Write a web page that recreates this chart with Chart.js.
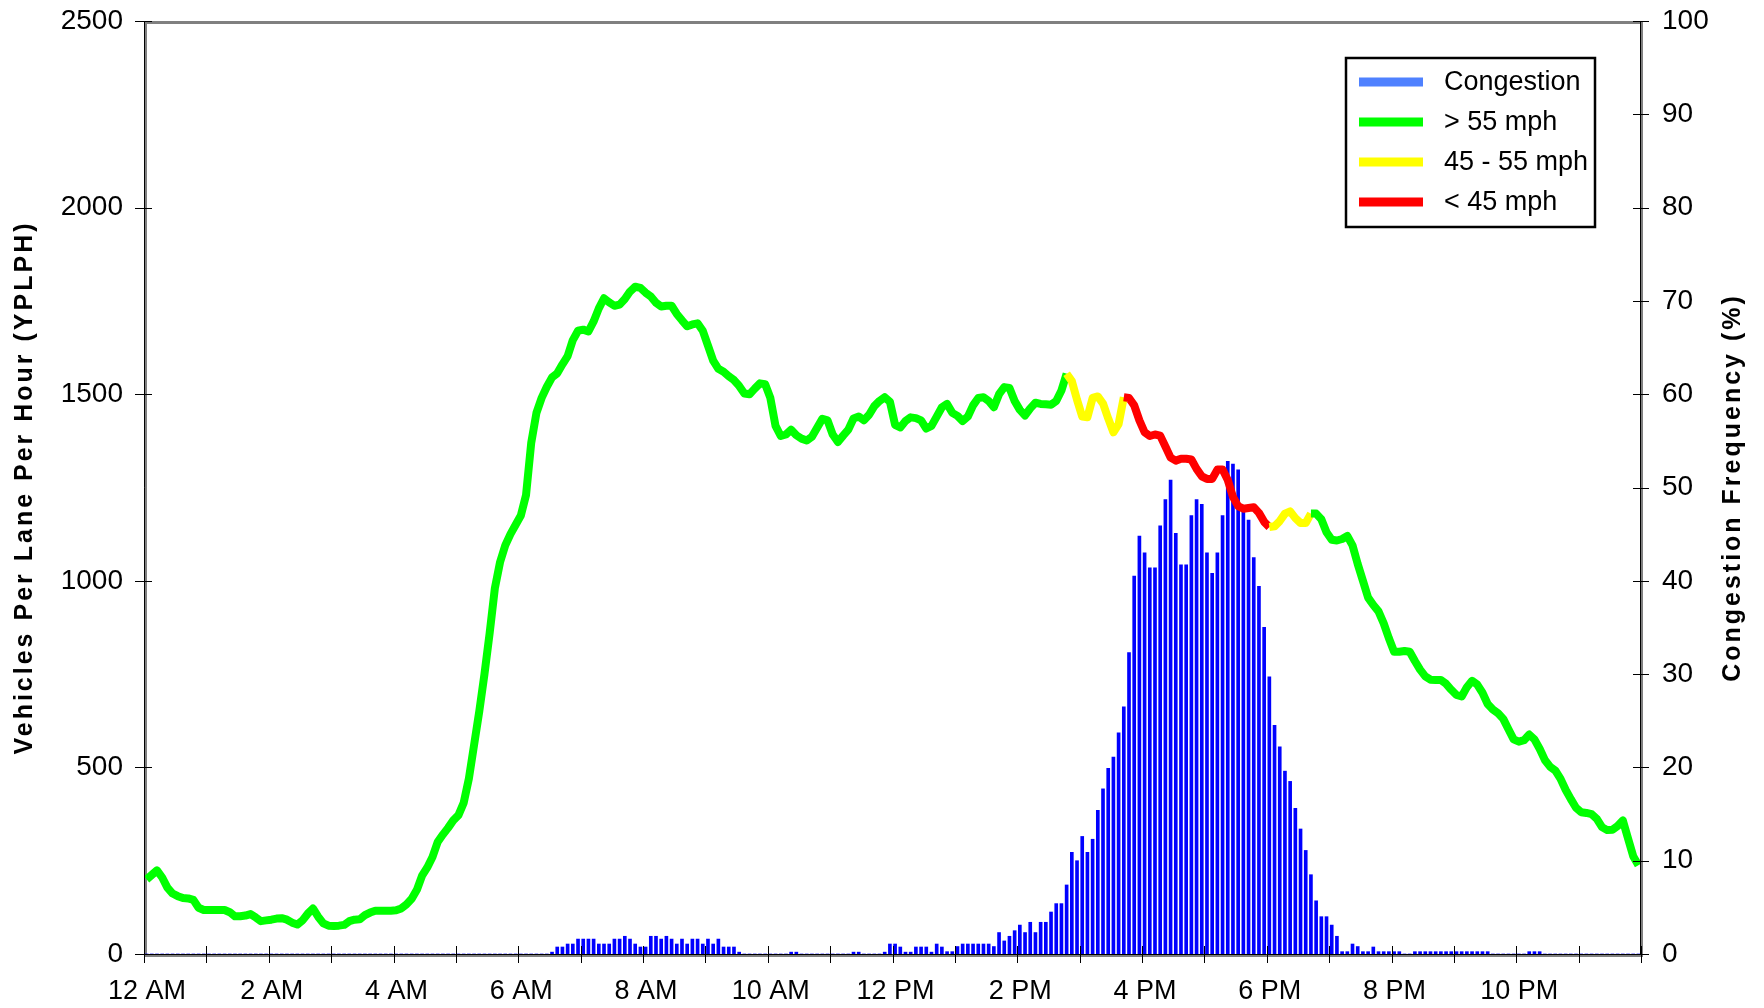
<!DOCTYPE html>
<html>
<head>
<meta charset="utf-8">
<script src="https://cdn.jsdelivr.net/npm/chart.js@4.4.0/dist/chart.umd.min.js"></script>
<style>
  html, body { margin: 0; padding: 0; background: #fff; }
  #wrap { width: 1764px; height: 1008px; }
</style>
</head>
<body>
<div id="wrap"><canvas id="graficoVolume"></canvas></div>
<script>
// volume in vehicles per lane per hour, one value per 5 min (12 per row = 1 hour)
const volume = [
  200, 212, 224, 205, 178, 162, 155, 150, 149, 145, 124, 118,
  118, 118, 118, 118, 112, 101, 101, 103, 107, 98, 88, 90,
  92, 95, 96, 92, 84, 79, 90, 108, 122, 100, 82, 76,
  75, 76, 78, 88, 92, 93, 104, 111, 116, 116, 116, 116,
  117, 122, 133, 148, 172, 210, 232, 260, 300, 320, 338, 358,
  372, 405, 470, 560, 650, 750, 860, 980, 1050, 1095, 1125, 1150,
  1175, 1230, 1370, 1450, 1490, 1520, 1545, 1556, 1580, 1602, 1645, 1670,
  1673, 1668, 1695, 1730, 1757, 1746, 1737, 1740, 1755, 1775, 1788, 1785,
  1772, 1762, 1745, 1735, 1737, 1737, 1715, 1698, 1682, 1687, 1690, 1670,
  1630, 1590, 1568, 1560, 1548, 1538, 1522, 1502, 1500, 1515, 1529, 1527,
  1490, 1415, 1388, 1392, 1405, 1390, 1381, 1376, 1386, 1410, 1434, 1430,
  1392, 1372, 1389, 1405, 1435, 1440, 1430, 1445, 1468, 1482, 1492, 1480,
  1418, 1411, 1428, 1438, 1436, 1430, 1408, 1415, 1440, 1465, 1474, 1450,
  1442, 1428, 1440, 1470, 1490, 1492, 1482, 1465, 1500, 1519, 1517, 1482,
  1458, 1443, 1462, 1477, 1474, 1473, 1472, 1482, 1510, 1555, 1535, 1485,
  1440, 1438, 1490, 1494, 1475, 1435, 1398, 1420, 1492, 1490, 1470, 1430,
  1398, 1388, 1392, 1389, 1360, 1330, 1322, 1327, 1327, 1325, 1300, 1280,
  1273, 1273, 1298, 1298, 1270, 1225, 1200, 1193, 1195, 1197, 1182, 1158,
  1144, 1146, 1160, 1180, 1186, 1168, 1155, 1155, 1180, 1180, 1165, 1130,
  1110, 1108, 1112, 1120, 1095, 1045, 1000, 955, 935, 918, 886, 846,
  810, 810, 812, 810, 785, 762, 744, 735, 734, 734, 724, 708,
  694, 690, 715, 732, 722, 700, 670, 655, 645, 630, 602, 575,
  569, 573, 588, 575, 550, 520, 502, 492, 470, 440, 415, 392,
  380, 378, 375, 362, 340, 332, 333, 343, 358, 310, 262, 238
];

// congestion frequency (%) per 5 min
const congestion = [
  0, 0, 0, 0, 0, 0, 0, 0, 0, 0, 0, 0,
  0, 0, 0, 0, 0, 0, 0, 0, 0, 0, 0, 0,
  0, 0, 0, 0, 0, 0, 0, 0, 0, 0, 0, 0,
  0, 0, 0, 0, 0, 0, 0, 0, 0, 0, 0, 0,
  0, 0, 0, 0, 0, 0, 0, 0, 0, 0, 0, 0,
  0, 0, 0, 0, 0, 0, 0, 0, 0, 0, 0, 0,
  0, 0, 0, 0, 0, 0, 0.2, 0.75, 0.75, 1.07, 1.07, 1.6,
  1.6, 1.6, 1.6, 1.07, 1.07, 1.07, 1.6, 1.6, 1.9, 1.6, 1.07, 0.75,
  0.75, 1.9, 1.9, 1.6, 1.9, 1.6, 1.07, 1.6, 1.07, 1.6, 1.6, 1.07,
  1.6, 1.07, 1.6, 0.75, 0.75, 0.75, 0.2, 0, 0, 0, 0, 0,
  0, 0, 0, 0, 0.2, 0.2, 0, 0, 0, 0, 0, 0,
  0, 0, 0, 0, 0.2, 0.2, 0, 0, 0, 0, 0.2, 1.07,
  1.07, 0.75, 0.2, 0.2, 0.75, 0.75, 0.75, 0.2, 1.07, 0.75, 0.25, 0.25,
  0.8, 1.07, 1.07, 1.07, 1.07, 1.07, 1.07, 0.8, 2.3, 1.4, 1.9, 2.5,
  3.1, 2.3, 3.4, 2.3, 3.4, 3.4, 4.5, 5.4, 5.4, 7.4, 10.9, 10.0,
  12.6, 10.9, 12.3, 15.4, 17.7, 19.9, 21.1, 23.7, 26.5, 32.3, 40.5, 44.8,
  43.0, 41.4, 41.4, 45.9, 48.7, 50.8, 45.1, 41.7, 41.7, 47.0, 48.7, 48.2,
  43.0, 40.8, 43.0, 47.0, 52.8, 52.5, 51.9, 47.4, 46.5, 42.5, 39.4, 35.0,
  29.7, 24.5, 22.2, 19.6, 18.5, 15.6, 13.4, 11.1, 8.5, 5.7, 4.0, 4.0,
  3.1, 1.9, 0.25, 0.25, 1.07, 0.8, 0.25, 0.25, 0.75, 0.25, 0.25, 0.25,
  0.25, 0.25, 0, 0, 0.25, 0.25, 0.25, 0.25, 0.25, 0.25, 0.25, 0.25,
  0.25, 0.25, 0.25, 0.25, 0.25, 0.25, 0.25, 0, 0, 0, 0, 0,
  0, 0, 0.25, 0.25, 0.25, 0, 0, 0, 0, 0, 0, 0,
  0, 0, 0, 0, 0, 0, 0, 0, 0, 0, 0, 0
];

// speed band of the line: [first 5-min slot, band]
const speedRuns = [[0, 'fast'], [177, 'mid'], [188, 'slow'], [216, 'mid'], [224, 'fast']];
const bandColors = { fast: '#00FF00', mid: '#FFFF00', slow: '#FF0000' };

const hourLabels = ['12 AM', '2 AM', '4 AM', '6 AM', '8 AM', '10 AM',
                    '12 PM', '2 PM', '4 PM', '6 PM', '8 PM', '10 PM'];

const legendItems = [
  ['Congestion', '#4F81FF'],
  ['> 55 mph', '#00FF00'],
  ['45 - 55 mph', '#FFFF00'],
  ['< 45 mph', '#FF0000']
];

// slot centre in minutes (5 min slots)
const slotMid = volume.map((v, i) => i * 5 + 2.5);

function bandAt(i) {
  let b = speedRuns[0][1];
  speedRuns.forEach(r => { if (i >= r[0]) b = r[1]; });
  return b;
}

const FONT = "'Liberation Sans', Arial, sans-serif";
Chart.defaults.font.family = FONT;
Chart.defaults.color = '#000';

// y axes: fixed width, no extra top/bottom padding for the labels
const fixY = w => s => { s.width = w; s.paddingTop = 0; s.paddingBottom = 0; };

// moldura cinza + eixos pretos + ticks cruzando o eixo
const frame = {
  id: 'frame',
  beforeDatasetsDraw(chart) {
    const { ctx, chartArea: a } = chart;
    ctx.save();
    ctx.strokeStyle = '#808080';
    ctx.lineWidth = 3;
    ctx.strokeRect(a.left + 1.5, a.top + 1.5, a.right - a.left - 1, a.bottom - a.top);
    ctx.restore();
  },
  afterDatasetsDraw(chart) {
    const { ctx, chartArea: a, scales } = chart;
    ctx.save();
    ctx.strokeStyle = '#000';
    ctx.lineWidth = 1;
    ctx.beginPath();
    ctx.moveTo(a.left + 0.5, a.top);
    ctx.lineTo(a.left + 0.5, a.bottom + 0.5);
    ctx.lineTo(a.right - 0.5, a.bottom + 0.5);
    ctx.moveTo(a.right - 0.5, a.top);
    ctx.lineTo(a.right - 0.5, a.bottom + 0.5);
    scales.x.ticks.forEach(t => {
      const px = Math.round(scales.x.getPixelForValue(t.value)) + 0.5;
      ctx.moveTo(px, a.bottom - 8);
      ctx.lineTo(px, a.bottom + 9);
    });
    scales.y.ticks.forEach(t => {
      const py = Math.round(scales.y.getPixelForValue(t.value)) + 0.5;
      ctx.moveTo(a.left - 9, py);
      ctx.lineTo(a.left + 8, py);
    });
    scales.y2.ticks.forEach(t => {
      const py = Math.round(scales.y2.getPixelForValue(t.value)) + 0.5;
      ctx.moveTo(a.right - 8, py);
      ctx.lineTo(a.right + 8, py);
    });
    ctx.stroke();
    ctx.restore();
  }
};

// titulos dos eixos (os dois lidos de baixo para cima)
const axisTitles = {
  id: 'axisTitles',
  afterDraw(chart) {
    const { ctx, chartArea: a } = chart;
    const midY = (a.top + a.bottom) / 2;
    ctx.save();
    ctx.font = 'bold 25px ' + FONT;
    ctx.letterSpacing = '3px';
    ctx.fillStyle = '#000';
    ctx.textAlign = 'center';
    ctx.textBaseline = 'middle';
    [[25, 'Vehicles Per Lane Per Hour (YPLPH)'], [1733, 'Congestion Frequency (%)']].forEach(([x, txt]) => {
      ctx.save();
      ctx.translate(x, midY);
      ctx.rotate(-Math.PI / 2);
      ctx.fillText(txt, 0, 0);
      ctx.restore();
    });
    ctx.restore();
  }
};

// legenda dentro da area do grafico
const boxLegend = {
  id: 'boxLegend',
  afterDraw(chart) {
    const { ctx, chartArea: a } = chart;
    const bx = a.right - 295, by = a.top + 37, bw = 249, bh = 169;
    ctx.save();
    ctx.fillStyle = '#fff';
    ctx.fillRect(bx, by, bw, bh);
    ctx.strokeStyle = '#000';
    ctx.lineWidth = 2.5;
    ctx.strokeRect(bx, by, bw, bh);
    ctx.font = '27px ' + FONT;
    ctx.textBaseline = 'middle';
    legendItems.forEach(([label, color], i) => {
      const cy = by + 24 + i * 40;
      ctx.fillStyle = color;
      ctx.fillRect(bx + 13, cy - 4.5, 64, 9);
      ctx.fillStyle = '#000';
      ctx.fillText(label, bx + 98, cy + 1);
    });
    ctx.restore();
  }
};

const ctxVolume = document.getElementById('graficoVolume').getContext('2d');
new Chart(ctxVolume, {
  data: {
    datasets: [
      {
        type: 'line',
        label: 'Volume',
        yAxisID: 'y',
        order: 0,
        data: volume.map((v, i) => ({ x: slotMid[i], y: v })),
        borderWidth: 8,
        borderColor: bandColors.fast,
        borderJoinStyle: 'round',
        pointRadius: 0,
        tension: 0,
        segment: {
          borderColor: c => bandColors[bandAt(c.p0DataIndex)]
        }
      },
      {
        type: 'bar',
        label: 'Congestion',
        yAxisID: 'y2',
        order: 1,
        data: congestion.map((v, i) => ({ x: slotMid[i], y: v })),
        backgroundColor: '#0000FF',
        borderWidth: 0,
        barThickness: 3
      }
    ]
  },
  options: {
    responsive: true,
    maintainAspectRatio: false,
    animation: false,
    layout: { padding: { top: 21, left: 0, right: 0, bottom: 0 } },
    plugins: {
      legend: { display: false },
      tooltip: { enabled: false }
    },
    scales: {
      x: {
        type: 'linear',
        position: 'bottom',
        offset: false,
        min: 0,
        max: 1440,
        afterFit: s => { s.height = 54; },
        grid: { display: false, drawTicks: false, offset: false },
        border: { display: false },
        ticks: {
          stepSize: 60,
          autoSkip: false,
          maxRotation: 0,
          minRotation: 0,
          padding: 21,
          labelOffset: 3,
          font: { size: 27 },
          callback: v => (v % 120 === 0 && v < 1440) ? hourLabels[v / 120] : ''
        }
      },
      y: {
        position: 'left',
        min: 0,
        max: 2500,
        afterFit: fixY(144),
        grid: { display: false, drawTicks: false },
        border: { display: false },
        ticks: { stepSize: 500, padding: 21, font: { size: 28 }, callback: v => String(v) }
      },
      y2: {
        position: 'right',
        min: 0,
        max: 100,
        afterFit: fixY(123),
        grid: { display: false, drawTicks: false },
        border: { display: false },
        ticks: { stepSize: 10, padding: 21, font: { size: 28 }, callback: v => String(v) }
      }
    }
  },
  plugins: [frame, axisTitles, boxLegend]
});
</script>
</body>
</html>
